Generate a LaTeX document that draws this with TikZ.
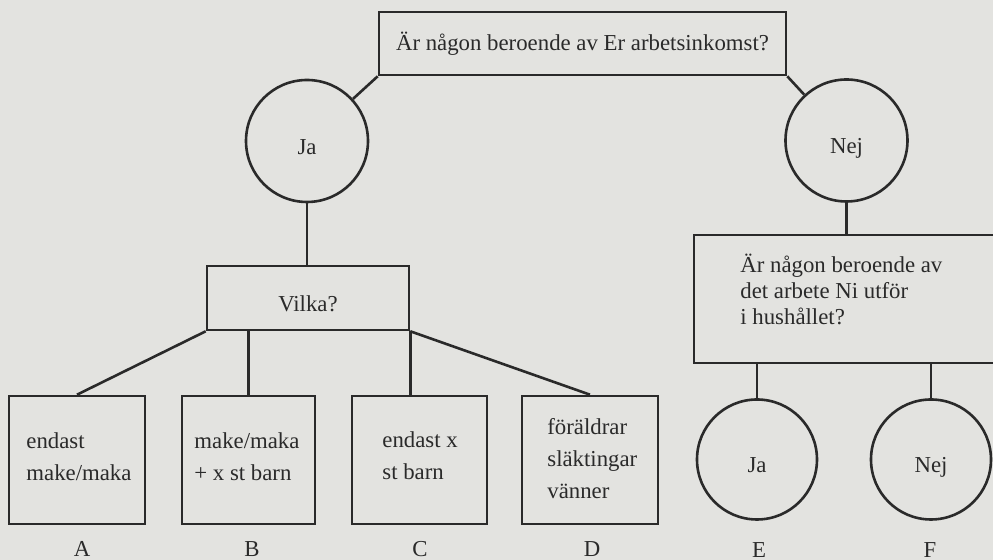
\documentclass[tikz,border=0pt]{standalone}
\usepackage{fontspec}
\setmainfont{Liberation Serif}
\definecolor{paper}{RGB}{227,227,224}
\definecolor{ink}{RGB}{42,42,42}
\tikzset{
  shapeline/.style={draw=ink, line width=1.3pt},
  qbox/.style={shapeline, rectangle, inner sep=0pt},
  ring/.style={shapeline, circle, inner sep=0pt, text height=13.5pt, text depth=0pt},
  boxtext/.style={anchor=west, align=left, inner sep=0pt},
  tag/.style={inner sep=0pt, text height=7.5pt, text depth=0pt},
  link/.style={draw=ink, line width=1.3pt}
}

\begin{document}
\begin{tikzpicture}[x=0.5pt, y=-0.5pt,
    every node/.append style={font=\fontsize{11.4}{16}\selectfont, text=ink}]
    \useasboundingbox (0,0) rectangle (993,560);
    \fill[paper] (0,0) rectangle (993,560);
    \clip (0,0) rectangle (993,560);

    % first question
    \node[qbox, minimum width=203.5pt, minimum height=31.5pt] (fraga) at (582.5,43.5) {Är någon beroende av Er arbetsinkomst?};
    \node[ring, minimum size=61pt] (ja) at (307,141) {Ja};
    \node[ring, minimum size=61pt] (nej) at (846.5,140.5) {Nej};

    % Ja branch
    \node[qbox, minimum width=101pt, minimum height=32pt, text height=13.5pt, text depth=0pt] (vilka) at (308,298) {Vilka?};
    \node[qbox, minimum width=68pt, minimum height=64pt] (A) at (77,460) {};
    \node[qbox, minimum width=66.5pt, minimum height=64pt] (B) at (248.5,460) {};
    \node[qbox, minimum width=67.5pt, minimum height=64pt] (C) at (419.5,460) {};
    \node[qbox, minimum width=68pt, minimum height=64pt] (D) at (590,460) {};
    \node[boxtext] (textA) at (26,457) {endast\\make/maka};
    \node[boxtext] (textB) at (194,457) {make/maka\\+ x st barn};
    \node[boxtext] (textC) at (382,456) {endast x\\st barn};
    \node[boxtext] (textD) at (547,459) {föräldrar\\släktingar\\vänner};

    % Nej branch
    \node[qbox, minimum width=158pt, minimum height=64pt] (arbete) at (852,299) {};
    \node[boxtext, font=\fontsize{11.4}{13}\selectfont] (textarbete) at (740,289) {Är någon beroende av\\det arbete Ni utför\\i hushållet?};
    \node[ring, minimum size=60pt] (E) at (757,459.5) {Ja};
    \node[ring, minimum size=60pt] (F) at (931,459.5) {Nej};

    % letters
    \node[tag] (tagA) at (82,549) {A};
    \node[tag] (tagB) at (252,549) {B};
    \node[tag] (tagC) at (420,549) {C};
    \node[tag] (tagD) at (592,549) {D};
    \node[tag] (tagE) at (759,550) {E};
    \node[tag] (tagF) at (930,550) {F};

    % connectors
    \draw[link] (fraga.south west) -- (ja);
    \draw[link] (fraga.south east) -- (nej);
    \draw[link] (ja.south) -- (ja.south |- vilka.north);
    \draw[link] (vilka.south west) -- (A.north);
    \draw[link] (B.north |- vilka.south) -- (B.north);
    \draw[link] (vilka.south east) -- (vilka.south east |- C.north);
    \draw[link] (vilka.south east) -- (D.north);
    \draw[link] (nej.south) -- (nej.south |- arbete.north);
    \draw[link] (E.north |- arbete.south) -- (E.north);
    \draw[link] (F.north |- arbete.south) -- (F.north);
\end{tikzpicture}
\end{document}
